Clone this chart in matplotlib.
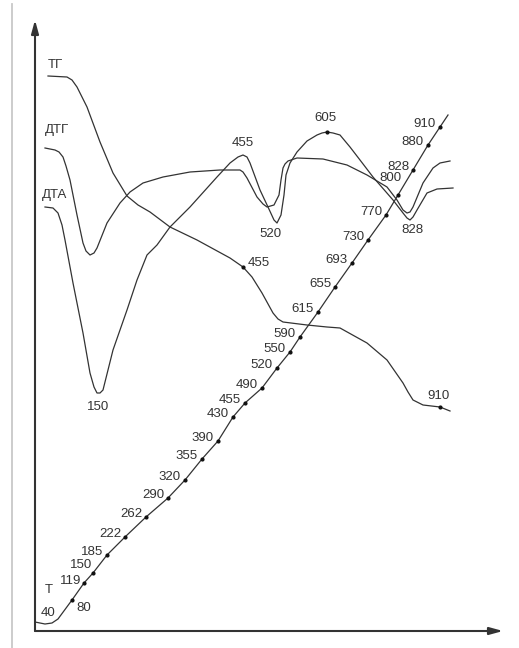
import matplotlib.pyplot as plt

plt.rcParams['font.family'] = ['Liberation Sans', 'DejaVu Sans']

INK = '#333333'

# ТГ - mass loss curve
tg_x = [13, 32, 37, 42, 52, 65, 78, 92, 103, 115, 135, 162, 195, 208, 217, 227, 238,
        243, 248, 272, 292, 305, 332, 352, 368, 373, 378, 388, 405, 415]
tg_y = [555, 554, 551, 544, 524, 489, 458, 435, 426, 419, 404, 391, 373, 364, 354, 338, 318,
        312, 309, 306, 304, 303, 288, 271, 248, 239, 231, 226, 224, 220]

# ДТГ - derivative of mass loss
dtg_x = [10, 20, 24, 28, 31, 35, 42, 48, 51, 55, 59, 62, 72, 85, 95, 108, 128, 155, 185,
         205, 208, 212, 222, 228, 232, 239, 244, 246, 248, 250, 253, 262, 288, 312, 332,
         352, 362, 368, 372, 375, 378, 388, 398, 405, 415]
dtg_y = [483, 481, 479, 474, 465, 451, 416, 388, 380, 376, 378, 383, 408, 428, 439, 448,
         454, 459, 461, 461, 459, 453, 434, 427, 424, 426, 436, 451, 463, 467, 470, 473,
         472, 466, 456, 444, 431, 421, 418, 419, 424, 448, 463, 468, 470]

# ДТА - differential thermal analysis
dta_x = [10, 18, 23, 27, 30, 38, 48, 55, 59, 62, 65, 68, 78, 92, 102, 112, 122, 135,
         155, 182, 195, 203, 208, 212, 215, 225, 233, 239, 242, 246, 249, 251, 255, 262,
         272, 282, 287, 292, 298, 305, 315, 325, 338, 358, 368, 372, 375, 378, 382, 392,
         402, 418]
dta_y = [424, 423, 418, 406, 391, 348, 298, 258, 244, 238, 238, 241, 281, 321, 351, 376,
         386, 404, 424, 454, 468, 474, 476, 474, 468, 441, 424, 411, 408, 416, 436, 456,
         468, 479, 490, 496, 498, 499, 498, 496, 484, 471, 454, 431, 418, 413, 411, 414,
         421, 438, 442, 443]

# Т - temperature curve with marked readings
t_temp = ['40', '80', '119', '150', '185', '222', '262', '290', '320', '355', '390',
          '430', '455', '490', '520', '550', '590', '615', '655', '693', '730',
          '770', '800', '828', '880', '910']
t_x = [0, 37, 49, 58, 72, 90, 111, 133, 150, 167, 183,
       198, 210, 227, 242, 255, 265, 283, 300, 317, 333,
       351, 363, 378, 393, 405]
t_y = [9, 31, 48, 58, 76, 94, 114, 133, 151, 172, 190,
       214, 228, 243, 263, 279, 294, 319, 344, 368, 391,
       416, 436, 461, 486, 504]
t_head_x = [10, 17, 23]
t_head_y = [7, 8, 12]
t_tail_x = [413]
t_tail_y = [516]

# labelled points: (text, x of the point)
dta_peaks = [('150', 62), ('455', 208), ('520', 242), ('605', 292), ('828', 375)]
tg_marks = [('455', 208), ('910', 405)]

fig = plt.figure(figsize=(5.19, 6.48), dpi=100)
ax = fig.add_axes([0, 0, 1, 1])
ax.set_xlim(-35, 484)
ax.set_ylim(-17, 631)
ax.axis('off')

# page edge
ax.plot([-23, -23], [-17, 627], color='#c8c8c8', lw=1.3)

# axes with arrows
arrow = dict(arrowstyle='-|>,head_length=0.8,head_width=0.22', lw=1.5,
             color=INK, shrinkA=0, shrinkB=0, mutation_scale=10)
ax.annotate('', xy=(0, 611), xytext=(0, 0), arrowprops=arrow)
ax.annotate('', xy=(468, 0), xytext=(0, 0), arrowprops=arrow)

lw = 0.9
ax.plot(tg_x, tg_y, color=INK, lw=lw)
ax.plot(dtg_x, dtg_y, color=INK, lw=lw)
ax.plot(dta_x, dta_y, color=INK, lw=lw)

line_x = t_x[:1] + t_head_x + t_x[1:] + t_tail_x
line_y = t_y[:1] + t_head_y + t_y[1:] + t_tail_y
ax.plot(line_x, line_y, color=INK, lw=lw)
ax.plot(t_x[1:], t_y[1:], 'o', color='#111111', ms=2)

txt = dict(fontsize=9.5, color=INK)

# temperature readings along Т
special = {'40': ((13, 9), 'center'), '80': ((4, -8), 'left'),
           '119': ((-3, 2), 'right'), '150': ((-1, 8), 'right'),
           '800': ((4, 17), 'right')}
for lab, x, y in zip(t_temp, t_x, t_y):
    off, ha = special.get(lab, ((-4, 3), 'right'))
    ax.annotate(lab, (x, y), xytext=off, textcoords='offset pixels',
                ha=ha, va='center', **txt)

# curve names
ax.text(20, 566, 'ТГ', ha='center', va='center', **txt)
ax.text(22, 501, 'ДТГ', ha='center', va='center', **txt)
ax.text(20, 436, 'ДТА', ha='center', va='center', **txt)
ax.text(14, 41, 'Т', ha='center', va='center', **txt)

# peak temperatures on ДТА
dta_offsets = [(1, -14), (0, 12), (-7, -11), (-2, 14), (2, -10)]
for (lab, px), off in zip(dta_peaks, dta_offsets):
    py = dta_y[dta_x.index(px)]
    ax.annotate(lab, (px, py), xytext=off, textcoords='offset pixels',
                ha='center', va='center', **txt)
    if lab == '605':
        ax.plot([px], [py], 'o', color='#111111', ms=2)

# marks on ТГ
tg_offsets = [(16, 4), (-2, 11)]
for (lab, px), off in zip(tg_marks, tg_offsets):
    py = tg_y[tg_x.index(px)]
    ax.plot([px], [py], 'o', color='#111111', ms=2)
    ax.annotate(lab, (px, py), xytext=off, textcoords='offset pixels',
                ha='center', va='center', **txt)

fig.savefig('out.png', dpi=100)
